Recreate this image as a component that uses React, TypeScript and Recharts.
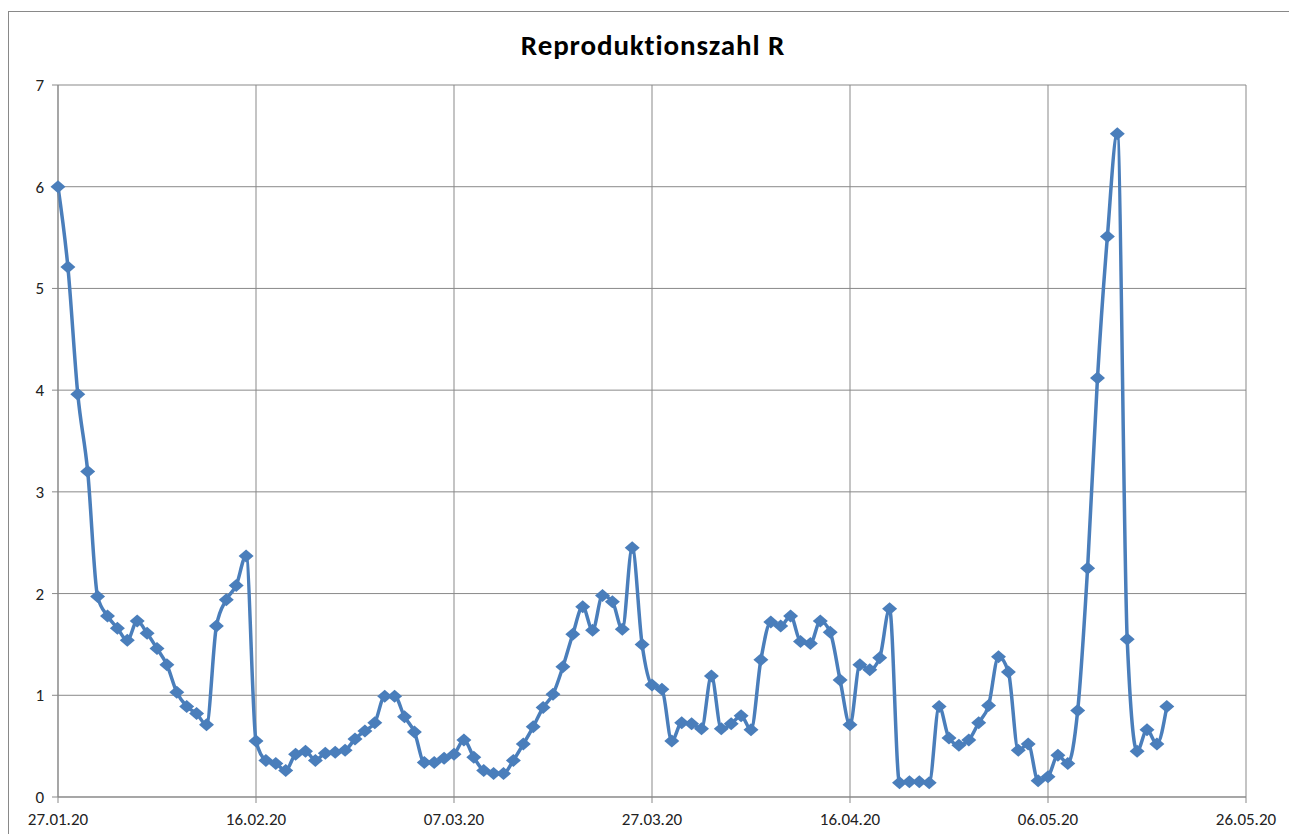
import React from 'react';
import { LineChart, Line, XAxis, YAxis, CartesianGrid } from 'recharts';

// daily R values starting 27.01.20
const rValues = [
  6.0, 5.21, 3.96, 3.2, 1.97, 1.78, 1.66, 1.54, 1.73, 1.61,
  1.46, 1.3, 1.03, 0.89, 0.82, 0.71, 1.68, 1.94, 2.08, 2.37,
  0.55, 0.36, 0.33, 0.26, 0.42, 0.45, 0.36, 0.43, 0.44, 0.46,
  0.57, 0.65, 0.73, 0.99, 0.99, 0.79, 0.64, 0.34, 0.34, 0.38,
  0.42, 0.56, 0.39, 0.26, 0.23, 0.23, 0.36, 0.52, 0.69, 0.88,
  1.01, 1.28, 1.6, 1.87, 1.64, 1.98, 1.92, 1.65, 2.45, 1.5,
  1.1, 1.06, 0.55, 0.73, 0.72, 0.67, 1.19, 0.67, 0.72, 0.8,
  0.66, 1.35, 1.72, 1.68, 1.78, 1.53, 1.51, 1.73, 1.62, 1.15,
  0.71, 1.3, 1.25, 1.37, 1.85, 0.14, 0.15, 0.15, 0.14, 0.89,
  0.58, 0.51, 0.56, 0.73, 0.9, 1.38, 1.23, 0.46, 0.52, 0.16,
  0.2, 0.41, 0.33, 0.85, 2.25, 4.12, 5.51, 6.52, 1.55, 0.45,
  0.66, 0.52, 0.89,
];

const xTicks = [0, 20, 40, 60, 80, 100, 120];
const xTickLabels = ['27.01.20', '16.02.20', '07.03.20', '27.03.20', '16.04.20', '06.05.20', '26.05.20'];
const yTicks = [0, 1, 2, 3, 4, 5, 6, 7];

const data = rValues.map((r, day) => ({ day, r }));

const BLUE = '#4A7EBB';
const GRID = '#898989';
const FONT = 'Carlito, Lato, "Open Sans", sans-serif';

function Diamond(props: any) {
  const { cx, cy, index } = props;
  if (cx == null || cy == null) return null;
  return (
    <path
      key={`d-${index}`}
      d={`M${cx},${cy - 6.5} L${cx + 7.5},${cy} L${cx},${cy + 6.5} L${cx - 7.5},${cy} Z`}
      fill={BLUE}
      stroke="none"
    />
  );
}

export default function App() {
  return (
    <div style={{ position: 'fixed', left: 0, top: 0, width: 1289, height: 834, overflow: 'hidden', background: '#fff' }}>
      <div
        style={{
          position: 'absolute',
          left: 8,
          top: 11,
          width: 1400,
          height: 900,
          border: `1px solid ${GRID}`,
        }}
      >
        <div
          style={{
            position: 'absolute',
            left: 0,
            top: 15,
            width: 1288,
            textAlign: 'center',
            fontFamily: FONT,
            fontWeight: 700,
            fontSize: 29,
            letterSpacing: 0.9,
            lineHeight: '36px',
            color: '#000',
          }}
        >
          Reproduktionszahl R
        </div>
        <LineChart
          width={1280}
          height={830}
          data={data}
          margin={{ top: 73, right: 43, left: 0, bottom: 15 }}
        >
          <CartesianGrid stroke={GRID} strokeWidth={1} />
          <XAxis
            dataKey="day"
            type="number"
            domain={[0, 120]}
            ticks={xTicks}
            interval={0}
            height={30}
            tickSize={6}
            tickMargin={10}
            stroke={GRID}
            tick={{ fill: '#222', fontSize: 17, fontFamily: FONT }}
            tickFormatter={(v: number) => xTickLabels[xTicks.indexOf(v)] ?? ''}
          />
          <YAxis
            type="number"
            domain={[0, 7]}
            ticks={yTicks}
            interval={0}
            width={49}
            tickSize={6}
            tickMargin={8}
            stroke={GRID}
            tick={{ fill: '#222', fontSize: 17, fontFamily: FONT }}
          />
          <Line
            type="monotone"
            dataKey="r"
            stroke={BLUE}
            strokeWidth={3.5}
            dot={Diamond}
            activeDot={false}
            isAnimationActive={false}
          />
        </LineChart>
      </div>
    </div>
  );
}
